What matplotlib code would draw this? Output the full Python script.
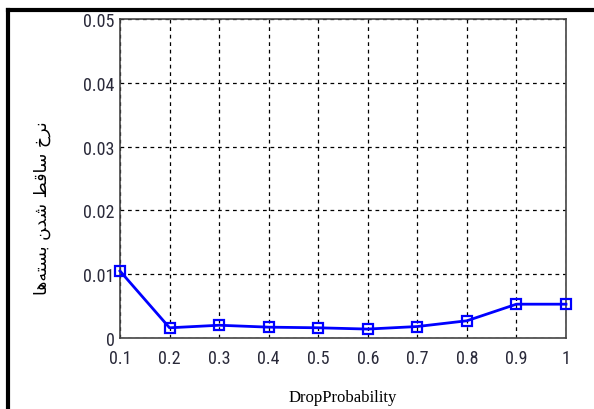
import matplotlib
matplotlib.use("Agg")
import matplotlib.pyplot as plt
from matplotlib import font_manager
from matplotlib.lines import Line2D

# data
drop_prob = [0.1, 0.2, 0.3, 0.4, 0.5, 0.6, 0.7, 0.8, 0.9, 1.0]
loss_rate = [0.0105, 0.0016, 0.0020, 0.0017, 0.0016, 0.0014, 0.0018, 0.0027, 0.0053, 0.0053]
x_ticks = [0.1, 0.2, 0.3, 0.4, 0.5, 0.6, 0.7, 0.8, 0.9, 1.0]
x_tick_labels = ["0.1", "0.2", "0.3", "0.4", "0.5", "0.6", "0.7", "0.8", "0.9", "1"]
y_ticks = [0, 0.01, 0.02, 0.03, 0.04, 0.05]
y_tick_labels = ["0", "0.01", "0.02", "0.03", "0.04", "0.05"]
x_label = "DropProbability"
# "نرخ ساقط شدن بسته‌ها" pre-shaped (presentation forms, visual order)
y_label = "\ufe8e\ufeeb\ufeea\ufe98\ufeb4\ufe91 \ufee6\ufeaa\ufeb7 \ufec2\ufed7\ufe8e\ufeb3 \ufea5\ufeae\ufee7"

names = {f.name for f in font_manager.fontManager.ttflist}
tick_font = "Liberation Sans"
for cand in ["Liberation Sans Narrow", "DejaVu Sans Condensed", "Roboto Condensed", "Open Sans Condensed"]:
    if cand in names:
        tick_font = cand
        break

fig = plt.figure(figsize=(5.94, 4.10), dpi=100)
ax = fig.add_axes([120 / 594, 1 - 339 / 410, 446 / 594, 319 / 410])

ax.plot(drop_prob, loss_rate, color="#0000ff", lw=2, marker="s", ms=7,
        mfc="none", mec="#0000ff", mew=1.6, clip_on=False, zorder=3)

ax.set_xlim(0.1, 1.0)
ax.set_ylim(0, 0.05)
ax.set_xticks(x_ticks)
ax.set_xticklabels(x_tick_labels)
ax.set_yticks(y_ticks)
ax.set_yticklabels(y_tick_labels)
ax.grid(True, color="black", ls=(0, (3, 3)), lw=0.9)
ax.tick_params(direction="in", length=0, labelsize=13, labelcolor="#2a2a3a")
ax.tick_params(axis="x", pad=8)
ax.tick_params(axis="y", pad=4)
for lbl in ax.get_xticklabels() + ax.get_yticklabels():
    lbl.set_fontfamily(tick_font)
for s in ax.spines.values():
    s.set_color("#444444")
    s.set_linewidth(1.2)

fig.text(343 / 594, 1 - 398 / 410, x_label, ha="center", va="center",
         fontfamily="Liberation Serif", fontsize=12)
fig.text(42 / 594, 1 - 208 / 410, y_label, rotation=90, ha="center", va="center",
         fontsize=12.5, fontfamily="DejaVu Sans")

# outer frame (left and top edges)
fig.add_artist(Line2D([8 / 594, 8 / 594], [0, 1 - 11 / 410], transform=fig.transFigure,
                      color="black", lw=3, solid_capstyle="projecting"))
fig.add_artist(Line2D([8 / 594, 1], [1 - 11 / 410, 1 - 11 / 410], transform=fig.transFigure,
                      color="black", lw=3, solid_capstyle="projecting"))

fig.savefig("out.png", dpi=100)
